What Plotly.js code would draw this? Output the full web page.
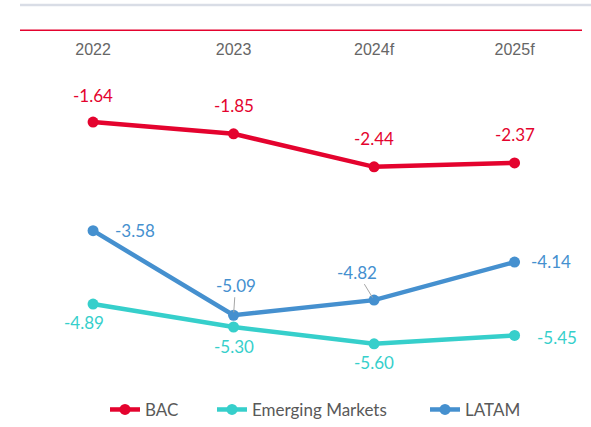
<!DOCTYPE html>
<html>
<head>
<meta charset="utf-8">
<script src="https://cdn.plot.ly/plotly-3.0.1.min.js"></script>
<style>html,body{margin:0;padding:0;background:#fff;}#chart{width:591px;height:427px;}</style>
</head>
<body>
<div id="chart"></div>
<script>
const categories = ['2022', '2023', '2024f', '2025f'];
const seriesNames = ['BAC', 'Emerging Markets', 'LATAM'];
const bac = [-1.64, -1.85, -2.44, -2.37];
const emerging = [-4.89, -5.30, -5.60, -5.45];
const latam = [-3.58, -5.09, -4.82, -4.14];

const colors = ['#E4032E', '#36CFCB', '#4590CF'];
const allSeries = [bac, emerging, latam];
const legendIds = ['legend', 'legend2', 'legend3'];
const legendX = [105, 212, 425]; // px positions of each legend entry

// label offsets [xshift, yshift, arrow]
const offsets = [
  [[0, 27], [0, 28], [0, 28], [0, 28]],
  [[-9, -18], [0, -19], [0, -19], [42, -2]],
  [[42, 0], [2, 30, true], [-17, 28, true], [36, 1]]
];

const traces = allSeries.map((vals, i) => ({
  type: 'scatter', mode: 'lines+markers', name: seriesNames[i],
  x: categories, y: vals, legend: legendIds[i],
  line: {color: colors[i], width: 4.5},
  marker: {color: colors[i], size: 11},
  hoverinfo: 'skip'
}));

const annotations = [];
allSeries.forEach((vals, i) => {
  vals.forEach((v, j) => {
    const o = offsets[i][j];
    const a = {
      x: j, y: v, xref: 'x', yref: 'y',
      text: v.toFixed(2),
      font: {family: 'Lato, "Open Sans", sans-serif', size: 17, color: colors[i]},
      showarrow: false, xshift: o[0], yshift: o[1]
    };
    if (o[2]) {
      a.showarrow = true; a.arrowhead = 0; a.arrowwidth = 1; a.arrowcolor = '#A6A6A6';
      a.ax = o[0]; a.ay = -o[1]; a.xshift = 0; a.yshift = 0; a.standoff = 3;
    }
    annotations.push(a);
  });
});

const layout = {
  width: 591, height: 427,
  margin: {l: 20, r: 9, t: 5, b: 44},
  paper_bgcolor: '#fff', plot_bgcolor: '#fff',
  showlegend: true,
  xaxis: {type: 'category', range: [-0.52, 3.48], anchor: 'free', position: 0.914, side: 'bottom',
    showline: false, showgrid: false, zeroline: false, ticks: '', automargin: false,
    tickfont: {family: '"Liberation Sans", Arial, sans-serif', size: 16, color: '#666666'}},
  yaxis: {range: [-6.3, 0.45], showticklabels: false, showgrid: false, zeroline: false,
    showline: false, ticks: '', automargin: false},
  shapes: [
    {type: 'line', xref: 'paper', yref: 'paper', x0: 0, x1: 1.016, y0: 1, y1: 1,
      line: {color: '#D9DDE6', width: 2.5}},
    {type: 'line', xref: 'paper', yref: 'y', x0: 0, x1: 1, y0: 0, y1: 0, layer: 'below',
      line: {color: '#E4032E', width: 1.5}}
  ],
  annotations: annotations
};
legendIds.forEach((id, i) => {
  layout[id] = {orientation: 'h', xref: 'container', yref: 'container',
    x: legendX[i] / 591, xanchor: 'left', y: 0.04, yanchor: 'middle',
    bgcolor: 'rgba(0,0,0,0)',
    font: {family: 'Lato, "Open Sans", sans-serif', size: 17, color: '#595959'}};
});

Plotly.newPlot('chart', traces, layout, {displayModeBar: false, staticPlot: true});
</script>
</body>
</html>
